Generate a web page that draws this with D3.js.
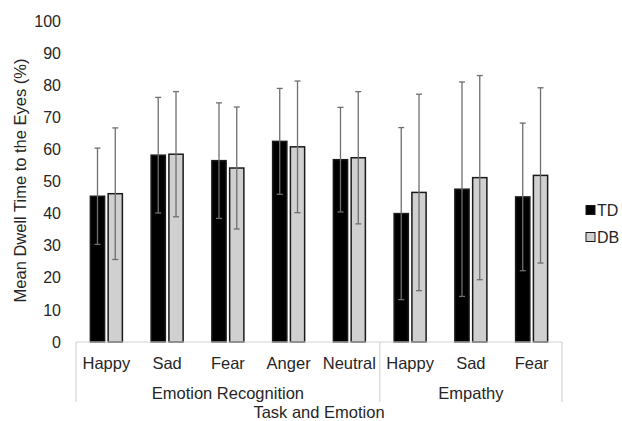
<!DOCTYPE html>
<html>
<head>
<meta charset="utf-8">
<script src="https://cdn.jsdelivr.net/npm/d3@7"></script>
<style>
  body { margin: 0; background: #fff; }
  text { font-family: "Liberation Sans", Arial, sans-serif; fill: #262626; }
</style>
</head>
<body>
<div id="chart"></div>
<script>
// data
var emotions = ["Happy", "Sad", "Fear", "Anger", "Neutral", "Happy", "Sad", "Fear"];
var tasks = [
  { name: "Emotion Recognition", from: 0, to: 5 },
  { name: "Empathy", from: 5, to: 8 }
];
var seriesNames = ["TD", "DB"];
var tdMean = [45.4, 58.2, 56.5, 62.5, 56.8, 40.0, 47.6, 45.2];
var tdSD   = [15.0, 18.0, 18.0, 16.5, 16.3, 26.8, 33.4, 23.0];
var dbMean = [46.2, 58.5, 54.2, 60.8, 57.4, 46.6, 51.2, 51.9];
var dbSD   = [20.5, 19.5, 19.0, 20.5, 20.6, 30.6, 31.8, 27.3];
var yTicks = [0, 10, 20, 30, 40, 50, 60, 70, 80, 90, 100];

var width = 622, height = 421;
var margins = { top: 21, right: 60, bottom: 79, left: 76 };
var chartWidth = width - margins.left - margins.right;
var chartHeight = height - margins.top - margins.bottom;

var colors = { TD: "#000000", DB: "#d0d0d0" };

var svg = d3.select("#chart")
  .append("svg")
  .attr("width", width)
  .attr("height", height);

var chartElement = svg.append("g")
  .attr("transform", `translate(${margins.left},${margins.top})`);

var xScale = d3.scaleBand()
  .domain(d3.range(emotions.length))
  .range([0, chartWidth]);

var xInner = d3.scaleBand()
  .domain(seriesNames)
  .range([xScale.bandwidth() / 2 - 16, xScale.bandwidth() / 2 + 16])
  .paddingInner(0.2);

var yScale = d3.scaleLinear()
  .domain([0, 100])
  .range([chartHeight, 0]);

// y axis (labels only)
var yAxis = d3.axisLeft(yScale)
  .tickValues(yTicks)
  .tickSize(0)
  .tickPadding(15);

var yAxisG = chartElement.append("g")
  .attr("class", "y axis")
  .call(yAxis);
yAxisG.select(".domain").remove();
yAxisG.selectAll("text")
  .style("font-size", "16px")
  .attr("fill", "#262626");

// rows of data
var rows = emotions.map((e, i) => ({
  i: i,
  values: [
    { key: "TD", mean: tdMean[i], sd: tdSD[i] },
    { key: "DB", mean: dbMean[i], sd: dbSD[i] }
  ]
}));

var groups = chartElement.append("g")
  .attr("class", "bars")
  .selectAll("g")
  .data(rows)
  .enter()
  .append("g")
  .attr("transform", d => `translate(${xScale(d.i)},0)`);

groups.selectAll("rect")
  .data(d => d.values)
  .enter()
  .append("rect")
  .attr("x", d => xInner(d.key))
  .attr("y", d => yScale(d.mean))
  .attr("width", xInner.bandwidth())
  .attr("height", d => yScale(0) - yScale(d.mean))
  .attr("fill", d => colors[d.key])
  .attr("stroke", "#1a1a1a")
  .attr("stroke-width", 1.5);

// error bars
var capW = 3;
var errs = groups.selectAll("g.err")
  .data(d => d.values)
  .enter()
  .append("g")
  .attr("class", "err")
  .attr("stroke", "#6e6e6e")
  .attr("stroke-width", 1.3);

errs.append("line")
  .attr("x1", d => xInner(d.key) + xInner.bandwidth() / 2)
  .attr("x2", d => xInner(d.key) + xInner.bandwidth() / 2)
  .attr("y1", d => yScale(d.mean + d.sd))
  .attr("y2", d => yScale(d.mean - d.sd));

errs.append("line")
  .attr("x1", d => xInner(d.key) + xInner.bandwidth() / 2 - capW)
  .attr("x2", d => xInner(d.key) + xInner.bandwidth() / 2 + capW)
  .attr("y1", d => yScale(d.mean + d.sd))
  .attr("y2", d => yScale(d.mean + d.sd));

errs.append("line")
  .attr("x1", d => xInner(d.key) + xInner.bandwidth() / 2 - capW)
  .attr("x2", d => xInner(d.key) + xInner.bandwidth() / 2 + capW)
  .attr("y1", d => yScale(d.mean - d.sd))
  .attr("y2", d => yScale(d.mean - d.sd));

// x axis line + group separators
var axisColor = "#d4d4d4";
chartElement.append("line")
  .attr("x1", 0)
  .attr("x2", chartWidth)
  .attr("y1", chartHeight)
  .attr("y2", chartHeight)
  .attr("stroke", axisColor)
  .attr("stroke-width", 1.2);

var bounds = [0].concat(tasks.map(t => t.to));
chartElement.append("g")
  .selectAll("line")
  .data(bounds)
  .enter()
  .append("line")
  .attr("x1", d => d < emotions.length ? xScale(d) : chartWidth)
  .attr("x2", d => d < emotions.length ? xScale(d) : chartWidth)
  .attr("y1", chartHeight)
  .attr("y2", chartHeight + 60)
  .attr("stroke", axisColor)
  .attr("stroke-width", 1.2);

// category labels
chartElement.append("g")
  .selectAll("text")
  .data(emotions)
  .enter()
  .append("text")
  .attr("x", (d, i) => xScale(i) + xScale.bandwidth() / 2)
  .attr("y", chartHeight + 21)
  .attr("dy", "0.35em")
  .attr("text-anchor", "middle")
  .style("font-size", "16.5px")
  .text(d => d);

// task labels
chartElement.append("g")
  .selectAll("text")
  .data(tasks)
  .enter()
  .append("text")
  .attr("x", d => (xScale(d.from) + (d.to < emotions.length ? xScale(d.to) : chartWidth)) / 2)
  .attr("y", chartHeight + 51)
  .attr("dy", "0.35em")
  .attr("text-anchor", "middle")
  .style("font-size", "16.5px")
  .text(d => d.name);

// axis titles
chartElement.append("text")
  .attr("x", chartWidth / 2)
  .attr("y", chartHeight + 70)
  .attr("dy", "0.35em")
  .attr("text-anchor", "middle")
  .style("font-size", "16.5px")
  .text("Task and Emotion");

svg.append("text")
  .attr("transform", `translate(20,${margins.top + chartHeight / 2 - 1}) rotate(-90)`)
  .attr("dy", "0.35em")
  .attr("text-anchor", "middle")
  .style("font-size", "16.5px")
  .text("Mean Dwell Time to the Eyes (%)");

// legend
var legend = svg.append("g")
  .attr("transform", "translate(586,210)")
  .selectAll("g")
  .data(seriesNames)
  .enter()
  .append("g")
  .attr("transform", (d, i) => `translate(0,${i * 27})`);

legend.append("rect")
  .attr("x", 0)
  .attr("y", -4.5)
  .attr("width", 9)
  .attr("height", 9)
  .attr("fill", d => colors[d])
  .attr("stroke", "#1a1a1a")
  .attr("stroke-width", 1);

legend.append("text")
  .attr("x", 11)
  .attr("dy", "0.35em")
  .style("font-size", "16px")
  .text(d => d);
</script>
</body>
</html>
